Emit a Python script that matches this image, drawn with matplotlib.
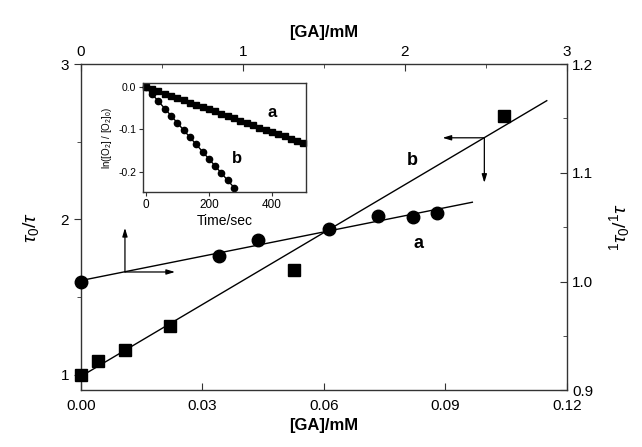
import numpy as np
import matplotlib
matplotlib.use('Agg')
import matplotlib.pyplot as plt

plt.rcParams['font.family'] = ['Liberation Sans', 'DejaVu Sans']
plt.rcParams['mathtext.fontset'] = 'custom'
plt.rcParams['mathtext.rm'] = 'Liberation Sans'
plt.rcParams['mathtext.it'] = 'Liberation Sans:italic'

# b: tau0/tau vs [GA] (bottom / left axes)
ga_b = [0.0, 0.0043, 0.011, 0.022, 0.0527, 0.1044]
ratio_b = [1.00, 1.09, 1.158, 1.315, 1.675, 2.667]
fit_b_x = [0.0, 0.115]
fit_b_y = [0.99, 2.764]

# a: 1tau0/1tau vs [GA] (top / right axes)
ga_a = [0.0, 0.851, 1.092, 1.534, 1.836, 2.048, 2.196]
ratio_a = [1.000, 1.024, 1.038, 1.048, 1.060, 1.0597, 1.0634]
fit_a_x = [0.0, 2.416]
fit_a_y = [1.001, 1.073]

# inset: ln([O2]/[O2]0) vs time
t_a = [0, 20, 40, 60, 80, 100, 120, 140, 160, 180, 200, 220, 240,
       260, 280, 300, 320, 340, 360, 380, 400, 420, 440, 460, 480, 500]
ln_a = [0.000, -0.005, -0.010, -0.016, -0.021, -0.026, -0.032, -0.037,
        -0.042, -0.048, -0.053, -0.058, -0.064, -0.069, -0.074, -0.080,
        -0.085, -0.090, -0.096, -0.101, -0.106, -0.112, -0.117, -0.122,
        -0.128, -0.133]
t_b = [0, 20, 40, 60, 80, 100, 120, 140, 160, 180, 200, 220, 240, 260, 280]
ln_b = [0.000, -0.017, -0.034, -0.051, -0.068, -0.085, -0.102, -0.119,
        -0.136, -0.153, -0.170, -0.187, -0.204, -0.221, -0.238]

fig = plt.figure(figsize=(6.42, 4.47), dpi=100)
pos = [0.1257, 0.1264, 0.7575, 0.7304]
ax = fig.add_axes(pos)
ax_a = fig.add_axes(pos, frameon=False)

spine_c = '#333333'
for s in ax.spines.values():
    s.set_color(spine_c)
    s.set_linewidth(1.0)

# bottom/left
ax.plot(fit_b_x, fit_b_y, '-', color='black', lw=1.0)
ax.plot(ga_b, ratio_b, 's', color='black', ms=8, clip_on=False, zorder=5)
ax.set_xlim(0, 0.12)
ax.set_ylim(0.9, 3)
ax.set_xticks([0, 0.03, 0.06, 0.09, 0.12])
ax.set_xticklabels(['0.00', '0.03', '0.06', '0.09', '0.12'])
ax.set_yticks([1, 2, 3])
ax.set_yticks([1.5, 2.5], minor=True)
ax.tick_params(axis='x', direction='in', length=5, labelsize=11, color=spine_c, pad=6)
ax.tick_params(axis='y', which='major', direction='out', length=5, labelsize=11, color=spine_c)
ax.tick_params(axis='y', which='minor', direction='out', length=3, color=spine_c)
ax.set_xlabel('[GA]/mM', fontsize=12, fontweight='bold', labelpad=4)
ax.set_ylabel(r'$\tau_0/\tau$', fontsize=14, labelpad=14)

# top/right
ax_a.plot(fit_a_x, fit_a_y, '-', color='black', lw=1.0)
ax_a.plot(ga_a, ratio_a, 'o', color='black', ms=9, clip_on=False, zorder=5)
ax_a.set_xlim(0, 3)
ax_a.set_ylim(0.9, 1.2)
ax_a.xaxis.tick_top()
ax_a.xaxis.set_label_position('top')
ax_a.yaxis.tick_right()
ax_a.yaxis.set_label_position('right')
ax_a.set_xticks([0, 1, 2, 3])
ax_a.set_xticks([0.5, 1.5, 2.5], minor=True)
ax_a.set_yticks([0.9, 1.0, 1.1, 1.2])
ax_a.set_yticklabels(['0.9', '1.0', '1.1', '1.2'])
ax_a.set_yticks([0.95, 1.05, 1.15], minor=True)
ax_a.tick_params(which='major', direction='in', length=5, labelsize=11, color=spine_c)
ax_a.tick_params(which='minor', direction='in', length=3, color=spine_c)
ax_a.set_xlabel('[GA]/mM', fontsize=12, fontweight='bold', labelpad=6)
ax_a.set_ylabel(r'$^1\tau_0/^1\tau$', fontsize=14, labelpad=10)

# labels and axis arrows
ax.text(0.694, 0.451, 'a', transform=ax.transAxes, fontsize=13,
        fontweight='bold', ha='center', va='center')
ax.text(0.681, 0.703, 'b', transform=ax.transAxes, fontsize=13,
        fontweight='bold', ha='center', va='center')

arw = dict(arrowstyle='-|>,head_length=0.5,head_width=0.15', color='black',
           lw=0.9, shrinkA=0, shrinkB=0)
ax.annotate('', xy=(0.091, 0.498), xytext=(0.091, 0.363),
            xycoords='axes fraction', arrowprops=arw)
ax.annotate('', xy=(0.194, 0.363), xytext=(0.091, 0.363),
            xycoords='axes fraction', arrowprops=arw)
ax.annotate('', xy=(0.744, 0.774), xytext=(0.830, 0.774),
            xycoords='axes fraction', arrowprops=arw)
ax.annotate('', xy=(0.830, 0.636), xytext=(0.830, 0.774),
            xycoords='axes fraction', arrowprops=arw)

# inset
ins = fig.add_axes([0.2232, 0.5698, 0.2534, 0.2452])
for s in ins.spines.values():
    s.set_color(spine_c)
    s.set_linewidth(1.0)
ins.plot(t_a, ln_a, 's-', color='black', ms=4, lw=1.0, clip_on=False)
ins.plot(t_b, ln_b, 'o-', color='black', ms=4.5, lw=1.0, clip_on=False)
ins.set_xlim(-8, 508)
ins.set_ylim(-0.249, 0.01)
ins.set_xticks([0, 200, 400])
ins.set_yticks([0.0, -0.1, -0.2])
ins.set_yticklabels(['0.0', '-0.1', '-0.2'])
ins.tick_params(direction='out', length=3, color=spine_c, pad=2)
ins.tick_params(axis='x', labelsize=8.5)
ins.tick_params(axis='y', labelsize=7.5)
ins.set_xlabel('Time/sec', fontsize=10, labelpad=2)
ins.set_ylabel(r'ln([O$_2$] / [O$_2$]$_0$)', fontsize=7, labelpad=3)
ins.text(400, -0.0615, 'a', fontsize=12, fontweight='bold', ha='center', va='center')
ins.text(290, -0.170, 'b', fontsize=12, fontweight='bold', ha='center', va='center')

fig.savefig('out.png', dpi=100)
